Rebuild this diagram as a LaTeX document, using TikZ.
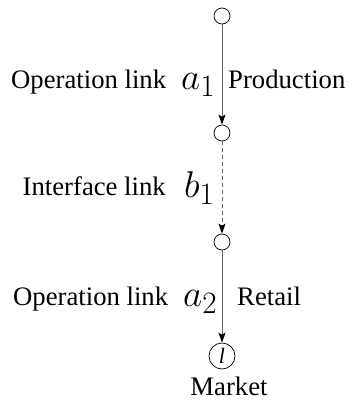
\documentclass[tikz,border=0pt]{standalone}
\usepackage{fontspec}
\setmainfont{Liberation Serif}
\newfontfamily\labelfont{Liberation Serif}
\usetikzlibrary{arrows.meta}

% math symbols set at the largest CM size, then enlarged
\newcommand{\bigsym}[1]{\scalebox{1.5}{$#1$}}

\begin{document}
\begin{tikzpicture}[x=1pt,y=-1pt,
  state/.style={circle,draw,line width=0.7pt,minimum size=16pt,inner sep=0pt},
  link/.style={draw=black!60,line width=1pt,-{Stealth[black,length=10pt,width=7pt,inset=2pt]}},
  txt/.style={anchor=base west,inner sep=0pt,font=\labelfont\fontsize{26.7}{30}\selectfont},
  sym/.style={anchor=base west,inner sep=0pt,font=\fontsize{24.88}{30}\selectfont}]
\useasboundingbox (0,0) rectangle (349,402);

% chain of states
\node[state] (n1) at (222,16) {};
\node[state] (n2) at (222,133) {};
\node[state] (n3) at (222,242) {};
\node[state,minimum size=26pt,font=\labelfont\fontsize{22}{24}\selectfont\itshape] (mk) at (222,356) {l};

% links between states
\draw[link] (n1) -- (n2);
\draw[link,dash pattern=on 4pt off 3pt] (n2) -- (n3);
\draw[link] (n3) -- (mk);

% labels of the first link
\node[txt] (t1) at (11,88) {Operation link};
\node[sym] (s1) at (181,89) {\bigsym{a_1}};
\node[txt] (p1) at (228,88) {Production};

% labels of the second link
\node[txt] (t2) at (22.5,195) {Interface link};
\node[sym] (s2) at (184,197) {\bigsym{b_1}};

% labels of the third link
\node[txt] (t3) at (13,305) {Operation link};
\node[sym] (s3) at (183,306) {\bigsym{a_2}};
\node[txt] (p3) at (237,305) {Retail};

% market label
\node[txt,anchor=base] (mkt) at (229,395) {Market};
\end{tikzpicture}
\end{document}
